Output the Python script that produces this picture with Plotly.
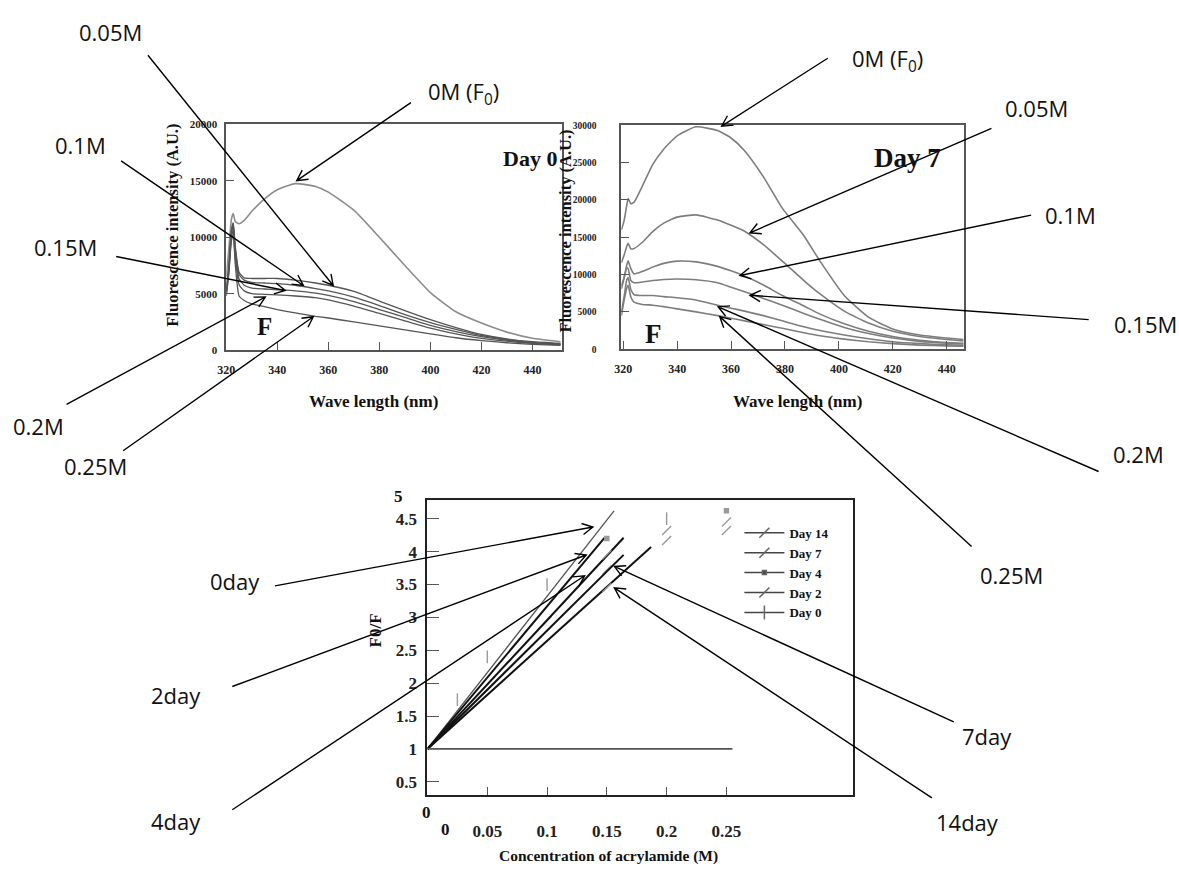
import math
import plotly.graph_objects as go

W, H = 1179, 870
SERIF = "Liberation Serif"
SANS = "Open Sans"

# ---------------- data ----------------
concentrations = ["0M (F<sub>0</sub>)", "0.05M", "0.1M", "0.15M", "0.2M", "0.25M"]

# Day 0 emission spectra
wl_day0 = [320, 321, 322, 322.7, 323.5, 325, 327, 330, 335, 340, 347, 355, 360,
           370, 380, 390, 400, 410, 420, 430, 440, 451]
day0_0M = [6500, 9000, 11600, 12100, 11400, 11200, 11500, 12300, 13400, 14200, 14750,
           14500, 14000, 12400, 10000, 7500, 5100, 3400, 2400, 1600, 1050, 750]
day0_005M = [5400, 7500, 10600, 11300, 9200, 6900, 6400, 6350, 6350, 6350, 6200,
             5950, 5750, 5200, 4350, 3500, 2700, 2000, 1400, 1000, 750, 600]
day0_010M = [5300, 7400, 10500, 11200, 9000, 6700, 6200, 6000, 5950, 5900, 5750,
             5450, 5250, 4700, 3950, 3150, 2450, 1850, 1300, 950, 700, 560]
day0_015M = [5200, 7200, 10300, 11000, 8700, 6300, 5750, 5500, 5420, 5350, 5250,
             5050, 4850, 4300, 3600, 2900, 2200, 1650, 1200, 880, 660, 520]
day0_020M = [5000, 7000, 10000, 10600, 8200, 5800, 5250, 5000, 4950, 4900, 4800,
             4650, 4450, 3900, 3250, 2600, 1950, 1450, 1050, 800, 600, 480]
day0_025M = [4800, 6800, 9700, 10200, 7600, 4800, 4400, 4100, 3850, 3600, 3300,
             3000, 2850, 2500, 2150, 1800, 1450, 1100, 850, 660, 520, 420]

# Day 7 emission spectra
wl_day7 = [319.3, 320.3, 321.3, 321.8, 322.8, 324, 327, 331, 335, 340, 347, 355, 360,
           365, 372, 379, 387, 393, 402, 411, 420, 430, 440, 446.3]
day7_0M = [16000, 17200, 19300, 20200, 19500, 19700, 21800, 24800, 26800, 28600, 29800,
           29300, 28300, 26600, 23100, 18900, 15200, 11800, 7200, 4300, 2700, 1900, 1500, 1300]
day7_005M = [11600, 12600, 13800, 14200, 13450, 13500, 14300, 15800, 16900, 17700, 18000,
             17300, 16600, 15800, 14000, 11800, 9200, 7400, 5100, 3500, 2400, 1700, 1300, 1100]
day7_010M = [8100, 9500, 11300, 11850, 10800, 10100, 10400, 11000, 11500, 11800, 11700,
             11100, 10500, 9800, 8600, 7200, 5800, 4700, 3400, 2400, 1700, 1200, 900, 800]
day7_015M = [8500, 9600, 10900, 10800, 9200, 8900, 9000, 9200, 9350, 9400, 9300,
             8900, 8300, 7700, 6800, 5900, 4800, 4000, 2900, 2100, 1500, 1050, 800, 700]
day7_020M = [5000, 7000, 9300, 9600, 8000, 7300, 7200, 7200, 7050, 6900, 6600,
             5900, 5500, 5100, 4500, 3800, 3000, 2500, 1900, 1400, 1000, 750, 600, 530]
day7_025M = [4500, 6500, 8200, 8550, 7000, 6300, 6000, 5900, 5700, 5400, 5000,
             4500, 4150, 3800, 3300, 2800, 2200, 1800, 1350, 1000, 750, 550, 450, 400]

# Stern-Volmer fits: every line starts at (0, 1)
sv_days = ["Day 0", "Day 2", "Day 4", "Day 7", "Day 14"]
sv_callouts = ["0day", "2day", "4day", "7day", "14day"]
sv_end_conc = [0.156, 0.148, 0.164, 0.164, 0.187]
sv_end_ratio = [4.62, 4.21, 4.21, 3.95, 4.07]
# measured points (F0/F) shown as small symbols
sv_pts_x = [[0.025, 0.05, 0.10, 0.20], [0.05, 0.10, 0.15, 0.20, 0.25], [0.15, 0.25],
            [0.15, 0.20], [0.15, 0.25]]
sv_pts_y = [[1.75, 2.40, 3.50, 4.50], [1.90, 2.95, 3.72, 4.32, 4.45], [4.20, 4.62],
            [3.95, 4.17], [3.45, 4.32]]
baseline_conc = [0, 0.255]
baseline_ratio = [1, 1]

# ---------------- panel geometry (pixels) ----------------
panels = {
    "day0": dict(l=219, t=120, r=557, b=349, xr=[320, 451.5], yr=[0, 20000]),
    "day7": dict(l=617, t=121, r=962, b=348, xr=[319.26, 446.3], yr=[0, 30000]),
    "sv": dict(l=421.7, t=501, r=850, b=800, xr=[0, (850 - 421.7) / 1205], yr=[0.30, 4.783]),
}


def paper(px, py):
    return px / W, 1 - py / H


def data_px(name, x, y):
    g = panels[name]
    px = g["l"] + (x - g["xr"][0]) / (g["xr"][1] - g["xr"][0]) * (g["r"] - g["l"])
    py = g["b"] - (y - g["yr"][0]) / (g["yr"][1] - g["yr"][0]) * (g["b"] - g["t"])
    return px, py


def dom(name):
    g = panels[name]
    return [g["l"] / W, g["r"] / W], [1 - g["b"] / H, 1 - g["t"] / H]


fig = go.Figure()

# ---------------- spectra ----------------
day0_series = [day0_0M, day0_005M, day0_010M, day0_015M, day0_020M, day0_025M]
day7_series = [day7_0M, day7_005M, day7_010M, day7_015M, day7_020M, day7_025M]
for i, ys in enumerate(day0_series):
    fig.add_trace(go.Scatter(
        x=wl_day0, y=ys, mode="lines", xaxis="x", yaxis="y", showlegend=False,
        line=dict(color="#8c8c8c" if i == 0 else "#555555", width=1.6 if i == 0 else 1.3,
                  shape="spline", smoothing=0.5)))
for ys in day7_series:
    fig.add_trace(go.Scatter(
        x=wl_day7, y=ys, mode="lines", xaxis="x2", yaxis="y2", showlegend=False,
        line=dict(color="#7d7d7d", width=1.6, shape="spline", smoothing=0.5)))

# ---------------- Stern-Volmer ----------------
fig.add_trace(go.Scatter(x=baseline_conc, y=baseline_ratio, mode="lines", xaxis="x3",
                         yaxis="y3", showlegend=False, line=dict(color="#555555", width=1.6)))
sym = {"Day 0": "line-ns", "Day 2": "line-ne", "Day 4": "square", "Day 7": "line-ne",
       "Day 14": "line-ne"}
for i, day in enumerate(sv_days):
    fig.add_trace(go.Scatter(
        x=[0, sv_end_conc[i]], y=[1, sv_end_ratio[i]], mode="lines", xaxis="x3", yaxis="y3",
        showlegend=False,
        line=dict(color="#555555" if i == 0 else "#111111", width=1.3 if i == 0 else 2.0)))
    mk = dict(symbol=sym[day], size=4 if sym[day] == "square" else 9, color="#9a9a9a",
              line=dict(width=1.4, color="#9a9a9a"))
    fig.add_trace(go.Scatter(x=sv_pts_x[i], y=sv_pts_y[i], mode="markers", xaxis="x3",
                             yaxis="y3", showlegend=False, marker=mk))
# legend entries, Day 14 first
for day in reversed(sv_days):
    mk = dict(symbol=sym[day], size=4 if sym[day] == "square" else 10, color="#444444",
              line=dict(width=1.5, color="#666666"))
    fig.add_trace(go.Scatter(x=[None], y=[None], mode="lines+markers", name=day,
                             xaxis="x3", yaxis="y3", marker=mk,
                             line=dict(color="#444444", width=1.5)))

# ---------------- axes ----------------
def axis_style(**kw):
    base = dict(showline=True, mirror=True, linecolor="#555555", linewidth=1.6,
                ticks="inside", tickcolor="#555555", tickwidth=1.4, showgrid=False,
                zeroline=False, tickformat="d",
                tickfont=dict(family=SERIF, size=12, color="#222222", weight="bold"))
    base.update(kw)
    return base


xd, yd = dom("day0")
fig.update_layout(
    xaxis=axis_style(domain=xd, anchor="y", range=panels["day0"]["xr"],
                     tickvals=[320, 340, 360, 380, 400, 420, 440], ticklen=8,
                     ticklabelstandoff=8),
    yaxis=axis_style(domain=yd, anchor="x", range=panels["day0"]["yr"],
                     tickvals=[0, 5000, 10000, 15000, 20000], ticklen=8,
                     ticklabelstandoff=5,
                     tickfont=dict(family=SERIF, size=11, color="#222222", weight="bold")),
)
xd, yd = dom("day7")
fig.update_layout(
    xaxis2=axis_style(domain=xd, anchor="y2", range=panels["day7"]["xr"],
                      tickvals=[320, 340, 360, 380, 400, 420, 440], ticklen=8,
                      ticklabelstandoff=8),
    yaxis2=axis_style(domain=yd, anchor="x2", range=panels["day7"]["yr"],
                      tickvals=[0, 5000, 10000, 15000, 20000, 25000, 30000], ticklen=8,
                      ticklabelstandoff=21,
                      tickfont=dict(family=SERIF, size=9.5, color="#222222", weight="bold")),
)
xd, yd = dom("sv")
fig.update_layout(
    xaxis3=axis_style(domain=xd, anchor="y3", range=panels["sv"]["xr"], tickformat="",
                      tickvals=[0.05, 0.1, 0.15, 0.2, 0.25], ticklen=8,
                      ticklabelstandoff=20, linecolor="#222222", linewidth=2,
                      tickfont=dict(family=SERIF, size=17, color="#222222", weight="bold")),
    yaxis3=axis_style(domain=yd, anchor="x3", range=panels["sv"]["yr"], tickformat="",
                      tickvals=[0.5, 1, 1.5, 2, 2.5, 3, 3.5, 4, 4.5], ticklen=12,
                      ticklabelstandoff=5, linecolor="#222222", linewidth=2,
                      tickfont=dict(family=SERIF, size=17, color="#222222", weight="bold")),
)

# ---------------- text ----------------
annotations = []


def text(px, py, s, size, family=SERIF, bold=True, angle=0, xanchor="center"):
    x, y = paper(px, py)
    annotations.append(dict(
        x=x, y=y, xref="paper", yref="paper", text=s, showarrow=False, textangle=angle,
        xanchor=xanchor, yanchor="middle",
        font=dict(family=family, size=size, color="#111111", weight="bold" if bold else "normal")))


# axis titles
text(165, 222, "Fluorescence intensity (A.U.)", 16.5, angle=-90)
text(561, 228, "Fluorescence intensity (A.U.)", 16.5, angle=-90)
text(367, 401, "Wave length (nm)", 17)
text(795, 401, "Wave length (nm)", 17)
text(604, 862, "Concentration of acrylamide (M)", 15.5)
text(369, 633, "F0/F", 17, angle=-90)
# panel tags
text(525, 155, "Day 0", 22)
text(905, 154, "Day 7", 27)
text(257, 325, "F", 25)
text(649, 333, "F", 27)
# extra axis numbers outside the plotting range
text(392, 497, "5", 17)
text(421, 818, "0", 17)
text(440, 835, "0", 17)

# ---------------- callouts ----------------
callouts = [
    # panel, label, label centre, arrow tail, arrow tip (data)
    ("day0", concentrations[0], (458, 88), (405, 98), (347.6, 15020)),
    ("day0", concentrations[1], (102, 26), (140, 50), (361.9, 5730)),
    ("day0", concentrations[2], (72, 141), (113, 157), (350.2, 5730)),
    ("day0", concentrations[3], (57, 244), (108, 254), (343.1, 5290)),
    ("day0", concentrations[4], (30, 426), (58, 404), (335.3, 4710)),
    ("day0", concentrations[5], (87, 466), (115, 451), (354.1, 2965)),
    ("day7", concentrations[0], (885, 55), (825, 53), (356.5, 29900)),
    ("day7", concentrations[1], (1035, 103), (990, 124), (367.0, 15600)),
    ("day7", concentrations[2], (1070, 212), (1030, 212), (363.3, 9875)),
    ("day7", concentrations[3], (1145, 322), (1088, 318), (367.0, 7230)),
    ("day7", concentrations[4], (1138, 454), (1098, 472), (355.2, 5685)),
    ("day7", concentrations[5], (1010, 577), (970, 548), (355.8, 4363)),
    ("sv", sv_callouts[0], (228, 583), (268, 588), (0.1383, 4.373)),
    ("sv", sv_callouts[1], (168, 699), (225, 690), (0.1328, 3.948)),
    ("sv", sv_callouts[2], (168, 826), (225, 815), (0.1314, 3.633)),
    ("sv", sv_callouts[3], (986, 740), (952, 726), (0.1563, 3.774)),
    ("sv", sv_callouts[4], (966, 827), (930, 803), (0.1563, 3.448)),
]


def arrow_path(tail, tip, head=12, ang=28):
    dx, dy = tip[0] - tail[0], tip[1] - tail[1]
    n = math.hypot(dx, dy)
    ux, uy = dx / n, dy / n
    wings = []
    for s in (1, -1):
        a = math.radians(ang) * s
        rx = ux * math.cos(a) - uy * math.sin(a)
        ry = ux * math.sin(a) + uy * math.cos(a)
        wings.append((tip[0] - head * rx, tip[1] - head * ry))

    def P(p):
        x, y = paper(*p)
        return f"{x:.5f},{y:.5f}"

    return f"M{P(tail)} L{P(tip)} M{P(wings[0])} L{P(tip)} L{P(wings[1])}"


shapes = []
for name, label, centre, tail, tip in callouts:
    tip_px = data_px(name, *tip)
    shapes.append(dict(type="path", xref="paper", yref="paper",
                       path=arrow_path(tail, tip_px),
                       line=dict(color="#000000", width=1.4)))
    text(centre[0], centre[1], label, 22, family=SANS, bold=False)

fig.update_layout(
    width=W, height=H, margin=dict(l=0, r=0, t=0, b=0),
    paper_bgcolor="white", plot_bgcolor="white",
    annotations=annotations, shapes=shapes,
    legend=dict(x=736 / W, y=1 - 519 / H, xanchor="left", yanchor="top",
                bgcolor="rgba(0,0,0,0)", tracegroupgap=0, itemwidth=40,
                font=dict(family=SERIF, size=13, color="#111111", weight="bold")),
)

fig.write_html("out.html")
